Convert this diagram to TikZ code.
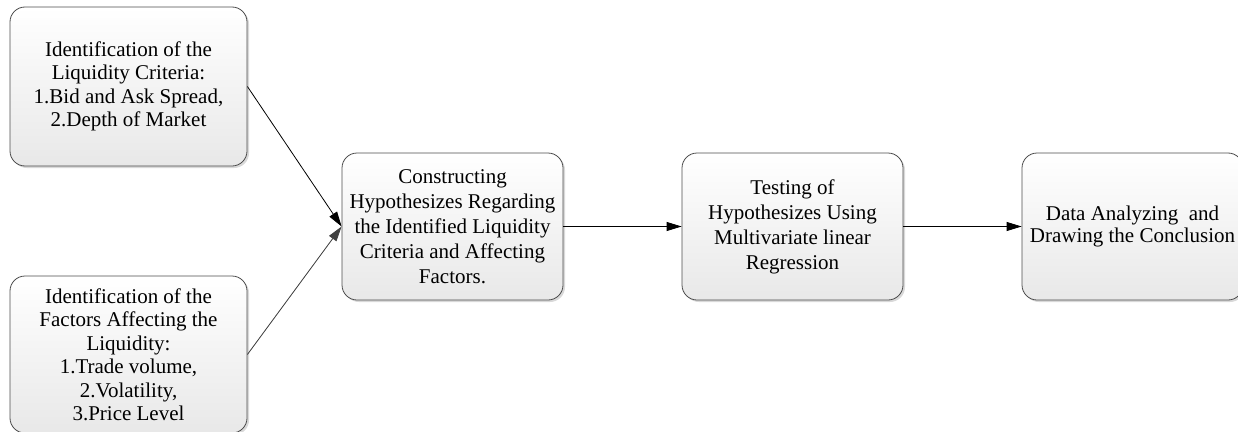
\documentclass[tikz,border=0pt]{standalone}
\usepackage{fontspec}
\setmainfont{Liberation Serif}
\usetikzlibrary{arrows.meta,shadows}
\begin{document}
\begin{tikzpicture}[x=1pt,y=1pt,
  stepbox/.style={draw=black!70, line width=0.8pt, rounded corners=15pt,
    top color=white, bottom color=black!9, shading angle=0,
    drop shadow={shadow xshift=2pt, shadow yshift=-2pt, fill=black!25, opacity=0.6},
    align=center, inner sep=2pt, text=black},
  link/.style={line width=0.8pt, -{Triangle[length=15pt,width=9pt]}}
]
\useasboundingbox (0,0) rectangle (1238,-431);
\node[stepbox, minimum width=237pt, minimum height=159pt,
  font=\fontsize{21}{23.5}\selectfont] (b1) at (128.5,-86.5)
  {Identification of the\\Liquidity Criteria:\\1.Bid and Ask Spread,\\2.Depth of Market};
\node[stepbox, minimum width=237pt, minimum height=157pt,
  font=\fontsize{21}{23.5}\selectfont] (b2) at (128.5,-354.5)
  {Identification of the\\Factors Affecting the\\Liquidity:\\1.Trade volume,\\2.Volatility,\\3.Price Level};
\node[stepbox, minimum width=221pt, minimum height=147pt,
  font=\fontsize{21}{25}\selectfont] (b3) at (452.5,-226.5)
  {Constructing\\Hypothesizes Regarding\\the Identified Liquidity\\Criteria and Affecting\\Factors.};
\node[stepbox, minimum width=221pt, minimum height=147pt,
  font=\fontsize{21}{25}\selectfont] (b4) at (792.5,-226.5)
  {Testing of\\Hypothesizes Using\\Multivariate linear\\Regression};
\node[stepbox, minimum width=221pt, minimum height=147pt,
  font=\fontsize{21}{22}\selectfont] (b5) at (1132.5,-226.5)
  {Data Analyzing\ \ and\\Drawing the Conclusion};
\draw[link] (b1.east) -- (b3.west);
\draw[link, draw=black!75, fill=black!75] (b2.east) -- (b3.west);
\draw[link] (b3.east) -- (b4.west);
\draw[link] (b4.east) -- (b5.west);
\end{tikzpicture}
\end{document}
